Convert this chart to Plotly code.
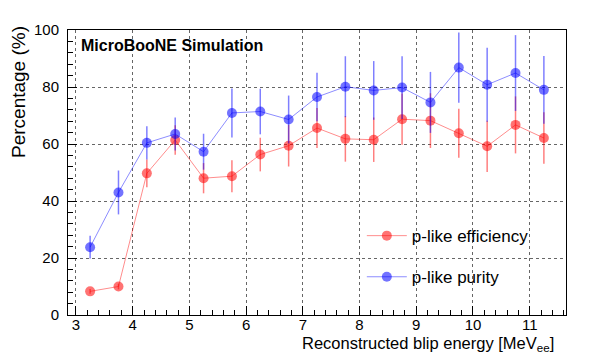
import plotly.graph_objects as go

# bin centres (MeV_ee)
energy = [3.25, 3.75, 4.25, 4.75, 5.25, 5.75, 6.25, 6.75, 7.25, 7.75,
          8.25, 8.75, 9.25, 9.75, 10.25, 10.75, 11.25]

# p-like efficiency (%)
eff = [8.3, 10.0, 49.7, 61.4, 48.0, 48.7, 56.3, 59.4, 65.6, 61.8,
       61.5, 68.7, 68.2, 63.8, 59.2, 66.7, 62.1]
eff_err = [0.8, 1.0, 4.9, 5.2, 5.3, 5.6, 5.9, 7.3, 7.0, 8.0,
           7.8, 9.0, 9.6, 8.6, 9.0, 10.0, 9.0]

# p-like purity (%)
pur = [23.8, 43.0, 60.4, 63.5, 57.3, 70.9, 71.4, 68.6, 76.5, 80.1,
       78.8, 79.8, 74.6, 86.8, 80.8, 84.9, 79.0]
pur_err = [4.0, 7.7, 5.8, 5.8, 6.3, 8.6, 8.0, 8.4, 8.5, 10.7,
           10.3, 11.0, 10.7, 12.3, 13.0, 13.3, 11.9]

font = "Liberation Sans, Arial, sans-serif"

fig = go.Figure()

fig.add_trace(go.Scatter(
    x=energy, y=eff,
    error_y=dict(type="data", array=eff_err, color="rgba(255,0,0,0.5)",
                 thickness=1.5, width=0),
    mode="lines+markers",
    name="p-like efficiency", legendgroup="eff",
    line=dict(color="rgba(255,0,0,0.45)", width=1),
    marker=dict(color="rgba(255,0,0,0.55)", size=10),
))

fig.add_trace(go.Scatter(
    x=energy, y=pur,
    error_y=dict(type="data", array=pur_err, color="rgba(0,0,255,0.5)",
                 thickness=1.5, width=0),
    mode="lines+markers",
    name="p-like purity", legendgroup="pur",
    line=dict(color="rgba(0,0,255,0.45)", width=1),
    marker=dict(color="rgba(0,0,255,0.55)", size=10),
))

# ROOT-style label and axis titles
fig.add_annotation(
    text="<b>MicroBooNE Simulation</b>", xref="paper", yref="paper",
    x=0.022, y=0.946, xanchor="left", yanchor="middle", showarrow=False,
    font=dict(family=font, size=16, color="black"),
)
fig.add_annotation(
    text="Reconstructed blip energy [MeV<sub>ee</sub>]",
    xref="paper", yref="paper", x=0.98, y=-0.058,
    xanchor="right", yanchor="top", showarrow=False,
    font=dict(family=font, size=16.5, color="black"),
)
fig.add_annotation(
    text="Percentage (%)", textangle=-90,
    xref="paper", yref="paper", x=-0.099, y=1.02,
    xanchor="center", yanchor="top", showarrow=False,
    font=dict(family=font, size=19, color="black"),
)

fig.update_layout(
    width=598, height=362,
    margin=dict(l=60, r=40, t=22, b=55),
    paper_bgcolor="white", plot_bgcolor="white",
    font=dict(family=font, size=15, color="black"),
    showlegend=True,
    legend=dict(x=0.59, y=0.34, xanchor="left", yanchor="top",
                bgcolor="rgba(0,0,0,0)", font=dict(size=17),
                tracegroupgap=16, itemwidth=40),
    xaxis=dict(
        range=[2.86, 11.64],
        tickmode="linear", tick0=3, dtick=1,
        ticks="inside", ticklen=9, tickcolor="black",
        ticklabelstandoff=-4,
        minor=dict(ticks="inside", dtick=0.2, ticklen=5, tickcolor="black",
                   showgrid=False),
        showgrid=True, gridcolor="#666", griddash="dot", gridwidth=1,
        showline=True, linecolor="black", linewidth=1, mirror=True,
        zeroline=False,
    ),
    yaxis=dict(
        range=[0, 100],
        tickmode="linear", tick0=0, dtick=20,
        ticks="inside", ticklen=9, tickcolor="black",
        ticklabelstandoff=5,
        minor=dict(ticks="inside", dtick=4, ticklen=5, tickcolor="black",
                   showgrid=False),
        showgrid=True, gridcolor="#666", griddash="dot", gridwidth=1,
        showline=True, linecolor="black", linewidth=1, mirror=True,
        zeroline=False,
    ),
)

fig.write_html("out.html")
